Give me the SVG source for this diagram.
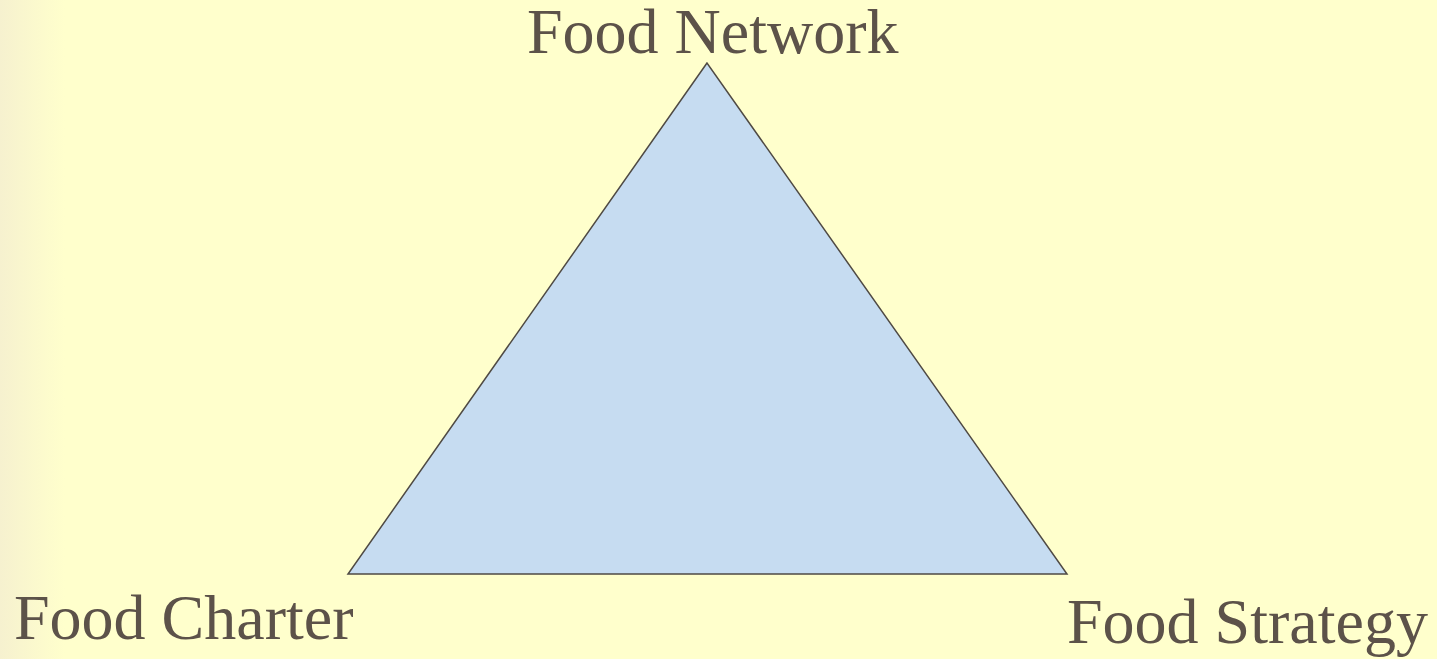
<svg xmlns="http://www.w3.org/2000/svg" width="1437" height="659" viewBox="0 0 1437 659">
<defs>
<linearGradient id="bg" x1="0" y1="0" x2="1" y2="0">
<stop offset="0" stop-color="#F6F1CF"/>
<stop offset="0.045" stop-color="#FFFFCC"/>
<stop offset="1" stop-color="#FFFFCC"/>
</linearGradient>
<style>
.lbl{font-family:"Liberation Serif","Times New Roman",serif;font-size:64px;fill:#5C5249}
.tri{fill:#C6DCF1;stroke:#4F4A44;stroke-width:1.5;stroke-linejoin:miter}
</style>
</defs>
<rect x="0" y="0" width="1437" height="659" fill="url(#bg)"/>
<g id="triangle">
<polygon class="tri" points="707,63 348,574 1067,574"/>
</g>
<g id="node-network">
<text class="lbl" x="527" y="53">Food Network</text>
</g>
<g id="node-charter">
<text class="lbl" x="14" y="639">Food Charter</text>
</g>
<g id="node-strategy">
<text class="lbl" x="1067" y="643">Food Strategy</text>
</g>
<g id="connectors"></g>
</svg>
